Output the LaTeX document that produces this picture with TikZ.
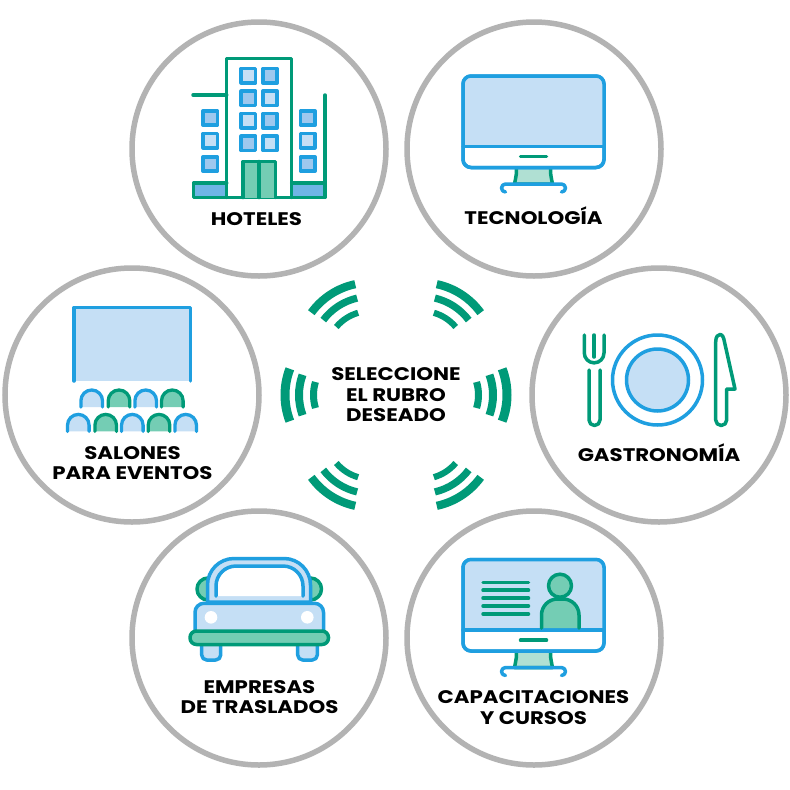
\documentclass[tikz,border=0pt]{standalone}
\usepackage{fontspec}
\setmainfont{Poppins}[FakeStretch=1.17]
\definecolor{rubroGreen}{HTML}{009A78}
\definecolor{rubroBlue}{HTML}{1F9FE0}
\definecolor{rubroLight}{HTML}{C5DFF5}
\definecolor{rubroMid}{HTML}{9EC8EE}
\definecolor{rubroSky}{HTML}{6FB5E6}
\definecolor{rubroMint}{HTML}{74CDB4}
\definecolor{rubroPale}{HTML}{B0E0D3}
\definecolor{rubroGrey}{HTML}{B3B3B3}
\tikzset{
	pics/monitor/.style={code={
		\draw[green line,fill=rubroPale] (-17,91) .. controls (-17,98) .. (-19,108) -- (19,108) .. controls (17,98) .. (17,91);
		\draw[blue line,fill=white,rounded corners=8pt] (-70.5,0) rectangle (70.5,91.5);
		\path[fill=rubroLight] (-70.5,70.7) -- (-70.5,8) arc (180:270:8) -- (62.5,0) arc (270:360:8) -- (70.5,70.7) -- cycle;
		\draw[blue line,rounded corners=8pt] (-70.5,0) rectangle (70.5,91.5);
		\draw[blue line] (-70.5,70.7) -- (70.5,70.7);
		\draw[green line] (-13,80.7) -- (13,80.7);
		\draw[blue line] (-28,116) arc (90:270:4) -- (28,108) arc (270:450:4);
	}}
}
\begin{document}
\begin{tikzpicture}[x=1pt,y=-1pt,
	rubro node/.style={circle,draw=rubroGrey,line width=5.5pt,minimum size=254pt,inner sep=0pt,fill=white},
	rubro label/.style={align=center,text=black,font=\fontsize{18.2}{20.5}\selectfont\bfseries,inner sep=0pt},
	blue line/.style={draw=rubroBlue,line width=3.5pt,line cap=round,line join=round},
	green line/.style={draw=rubroGreen,line width=3.5pt,line cap=round,line join=round},
	wave line/.style={draw=rubroGreen}]
	\useasboundingbox (0,0) rectangle (790,790);
	\fill[white] (0,0) rectangle (790,790);
	
	\node[rubro node] (hoteles) at (259,149) {};
	\node[rubro node] (tecnologia) at (534,149) {};
	\node[rubro node] (salones) at (132,395) {};
	\node[rubro node] (gastronomia) at (659,395) {};
	\node[rubro node] (empresas) at (259,638) {};
	\node[rubro node] (capacitaciones) at (534,638) {};
	
	\node[rubro label] (hotelesText) at (256.5,219) {HOTELES};
	\node[rubro label] (tecnologiaText) at (533.5,216) {TECNOLOGÍA};
	\node[rubro label] (salonesText) at (132.5,463) {SALONES\\PARA EVENTOS};
	\node[rubro label] (gastronomiaText) at (659,453) {GASTRONOMÍA};
	\node[rubro label] (empresasText) at (259.5,697) {EMPRESAS\\DE TRASLADOS};
	\node[rubro label] (capacitacionesText) at (533.5,707.5) {CAPACITACIONES\\Y CURSOS};
	
	% waves round the centre
	\coordinate (centro) at (396,395);
	\node[rubro label] (seleccione) at (centro) {SELECCIONE\\EL RUBRO\\DESEADO};
	\foreach \ang/\d/\e in {0/38/0,180/38/0,-57/47/1,-123/47/1,123/47/1,57/47/1}
		\foreach \r/\w/\h in {44.5/7/17,59/8/20,73/9/21}
			\draw[wave line,line width=\w pt-\e*0.8pt] (centro) ++(\ang:\d) ++(\ang-\h:\r) arc (\ang-\h:\ang+\h:\r);
	
	% hotel
	\fill[rubroSky] (193,183) rectangle (325,197.5);
	\draw[green line,fill=white] (226.7,197.5) -- (226.7,58.5) -- (291.7,58.5) -- (291.7,197.5);
	\draw[green line] (193,95) -- (226.7,95);
	\draw[green line] (325,95) -- (325,197.5) -- (193.5,197.5) -- (193.5,183) -- (226.7,183);
	\draw[green line] (291.7,183) -- (325,183);
	\foreach \x/\y/\c in {248.3/75.7/rubroLight,270/75.7/rubroMid,248.3/98.3/rubroMid,270/98.3/rubroLight,
		248.3/120.7/rubroLight,270/120.7/rubroMid,248.3/143.3/rubroMid,270/143.3/rubroLight,
		210.3/118/rubroMid,210.3/140.7/rubroLight,210.3/164/rubroMid,
		307.7/118/rubroMid,307.7/140.7/rubroLight,307.7/164/rubroMid}
		\draw[blue line,fill=\c] (\x-7.2,\y-7.2) rectangle (\x+7.2,\y+7.2);
	\draw[green line,fill=rubroMint] (243,197.5) -- (243,161.5) -- (275.3,161.5) -- (275.3,197.5);
	\draw[green line] (259,161.5) -- (259,197.5);
	
	% monitors
	\pic at (533.5,76) {monitor};
	\pic at (533.5,559.5) {monitor};
	
	% screen and seats
	\fill[rubroLight] (74,307.5) rectangle (190.5,381);
	\draw[blue line] (74,381) -- (74,307.5) -- (190.5,307.5) -- (190.5,381);
	\foreach \x/\y/\c/\f in {91.7/390/rubroBlue/rubroLight,119/390/rubroGreen/rubroMint,145.7/390/rubroBlue/rubroLight,172.3/390/rubroGreen/rubroMint,
		78.3/414.4/rubroBlue/rubroLight,105.7/414.4/rubroGreen/rubroMint,132.3/414.4/rubroBlue/rubroLight,159/414.4/rubroGreen/rubroMint,185.7/414.4/rubroBlue/rubroLight}
		\draw[draw=\c,fill=\f,line width=3.3pt,line cap=round] (\x-10.8,\y+17) -- (\x-10.8,\y+10.8) arc (180:360:10.8) -- (\x+10.8,\y+17);
	
	% plate and cutlery
	\draw[blue line] (657.5,380) circle (45);
	\draw[blue line,fill=rubroLight] (657.5,380) circle (31);
	\draw[green line] (584.3,335) -- (584.3,353) arc (180:90:9.85) arc (90:0:9.85) -- (604,335);
	\draw[green line] (594.1,335) -- (594.1,357);
	\draw[green line] (589,370) -- (589,420) arc (180:0:5.5) -- (600,370);
	\draw[green line] (715.7,342) .. controls (715.7,336.5) and (718,334.5) .. (720,334.5) .. controls (722.5,334.5) and (723.7,337.5) .. (724.5,342) -- (735,389) -- (726.7,389) -- (726.7,420) arc (0:180:5.5) -- cycle;
	
	% car
	\draw[green line,fill=rubroMint] (208,589) circle (11);
	\draw[green line,fill=rubroMint] (310.5,589) circle (11);
	\draw[blue line,fill=rubroLight,rounded corners=5pt] (201.7,640) -- (201.7,660) -- (220.7,660) -- (220.7,640);
	\draw[blue line,fill=rubroLight,rounded corners=5pt] (297.7,640) -- (297.7,660) -- (317.3,660) -- (317.3,640);
	\draw[blue line,fill=rubroLight] (207.5,602) -- (207.5,585) arc (180:270:26.5) -- (284,558.5) arc (270:360:26.5) -- (310.5,602) -- cycle;
	\fill[white] (216,596) -- (216,588) arc (180:270:20) -- (283,566) arc (270:360:20) -- (303,596) -- cycle;
	\draw[blue line] (216,596) -- (216,586) arc (180:270:20) -- (283,566) arc (270:360:20) -- (303,596);
	\draw[blue line,fill=rubroLight,rounded corners=9pt] (195,635) -- (195,603.3) -- (323.5,603.3) -- (323.5,635);
	\fill[white] (211,617.3) circle (6.3);
	\fill[white] (307.3,617.3) circle (6.3);
	\draw[green line,fill=rubroMint,rounded corners=6.5pt] (190,631) rectangle (328.5,644.5);
	
	% person on the second monitor
	\foreach \y in {582.3,590.2,598.1,606,614}
		\draw[green line] (483,\y) -- (528.5,\y);
	\draw[green line,fill=rubroMint] (560,585.7) circle (11.5);
	\draw[green line,fill=rubroMint] (541.5,628) -- (541.5,615) arc (180:270:16) -- (563,599) arc (270:360:16) -- (579,628);
\end{tikzpicture}
\end{document}
